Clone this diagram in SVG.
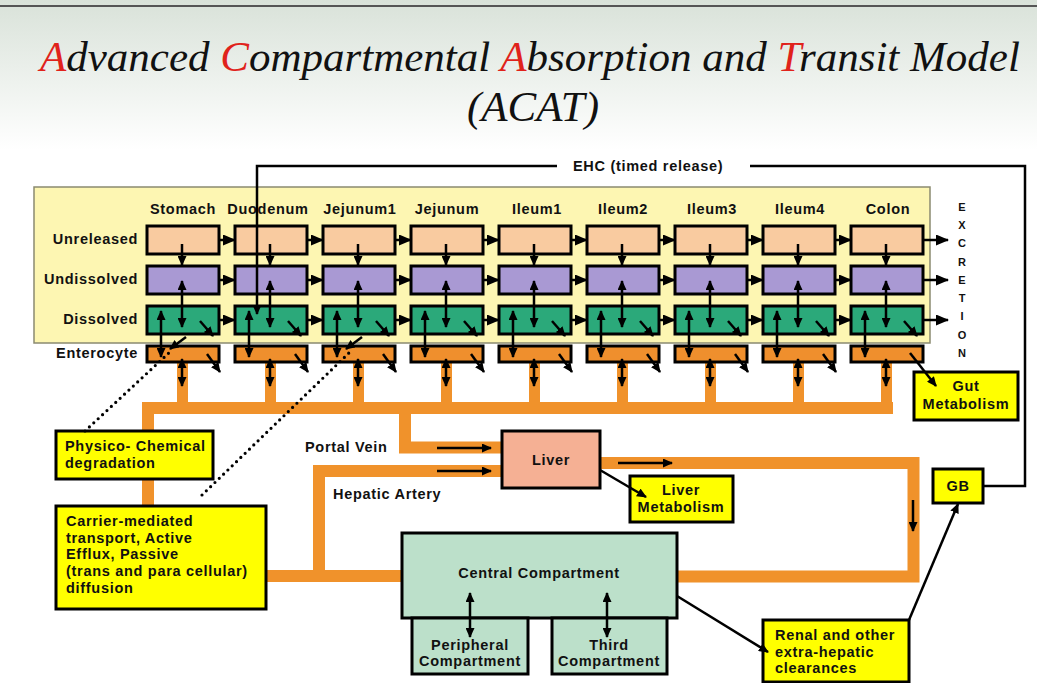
<svg xmlns="http://www.w3.org/2000/svg" width="1037" height="683" viewBox="0 0 1037 683">
<defs>
<linearGradient id="bg" x1="0" y1="0" x2="0" y2="1">
<stop offset="0" stop-color="#d9e2d9"/>
<stop offset="1" stop-color="#ffffff"/>
</linearGradient>
<marker id="ah" markerWidth="10" markerHeight="9" refX="9" refY="4.5" orient="auto-start-reverse" markerUnits="userSpaceOnUse">
<path d="M0,0 L10,4.5 L0,9 z" fill="#000"/>
</marker>
<marker id="big" markerWidth="13" markerHeight="11" refX="12" refY="5.5" orient="auto-start-reverse" markerUnits="userSpaceOnUse">
<path d="M0,0 L13,5.5 L0,11 z" fill="#000"/>
</marker>
<style>
.lbl{font-family:"Liberation Sans",Arial,sans-serif;font-weight:bold;font-size:14.5px;letter-spacing:0.7px;fill:#111}
.sm{font-size:11px;letter-spacing:0}
.mid{text-anchor:middle}
.end{text-anchor:end}
.box{stroke:#000;stroke-width:3}
.ur{fill:#f9cba0}.ud{fill:#a999d3}.ds{fill:#2ba97a}.en{fill:#ef8f2d}
.yb{fill:#ffff00;stroke:#000;stroke-width:3}
.pipe{fill:none;stroke:#f0922b;stroke-width:12}
.stem{fill:#f0922b}
.ar{stroke:#000;stroke-width:2.5;fill:none}
.a1{marker-end:url(#ah)}
.a2{marker-start:url(#ah);marker-end:url(#ah)}
.ab{stroke:#000;stroke-width:2.5;marker-end:url(#big)}
.dot{stroke:#000;stroke-width:3.2;stroke-linecap:round;stroke-dasharray:0 6;fill:none}
.title{font-family:"Liberation Serif","Times New Roman",serif;font-style:italic;font-size:43px;fill:#111}
.red{fill:#e0221b}
</style>
</defs>
<rect x="0" y="0" width="1037" height="683" fill="#fff"/>
<rect x="0" y="0" width="1037" height="150" fill="url(#bg)"/>
<line x1="0" y1="6" x2="1037" y2="6" stroke="#555" stroke-width="2"/>

<g id="title">
<text class="title" x="40" y="71"><tspan class="red">A</tspan>dvanced <tspan class="red">C</tspan>ompartmental <tspan class="red">A</tspan>bsorption and <tspan class="red">T</tspan>ransit Model</text>
<text class="title mid" x="533" y="121">(ACAT)</text>
</g>

<g id="gut-panel">
<rect x="34" y="187" width="896" height="156" fill="#fdf6b2" stroke="#8a8a70" stroke-width="1.5"/>
</g>

<g id="pipes">
<path class="pipe" d="M893,408 H148 V576 H402"/>
<path class="pipe" d="M405,408 V447.5 H502"/>
<path class="pipe" d="M319,576 V471 H502"/>
<path class="pipe" d="M600,463 H913.5 V576.5 H677"/>
<rect class="stem" x="177" y="362" width="11" height="46"/>
<rect class="stem" x="265" y="362" width="11" height="46"/>
<rect class="stem" x="353" y="362" width="11" height="46"/>
<rect class="stem" x="441" y="362" width="11" height="46"/>
<rect class="stem" x="529" y="362" width="11" height="46"/>
<rect class="stem" x="617" y="362" width="11" height="46"/>
<rect class="stem" x="705" y="362" width="11" height="46"/>
<rect class="stem" x="793" y="362" width="11" height="46"/>
<rect class="stem" x="881" y="362" width="11" height="46"/>
</g>

<g id="row-labels">
<text class="lbl end" x="138" y="244">Unreleased</text>
<text class="lbl end" x="138" y="284">Undissolved</text>
<text class="lbl end" x="138" y="324">Dissolved</text>
<text class="lbl end" x="138" y="358">Enterocyte</text>
</g>

<g id="col-stomach">
<text class="lbl mid" x="183" y="214">Stomach</text>
<rect class="box ur" x="147" y="226" width="72" height="28"/><rect class="box ud" x="147" y="266" width="72" height="28"/><rect class="box ds" x="147" y="306" width="72" height="28"/><rect class="box en" x="147" y="346" width="72" height="16"/>
</g>
<g id="col-duodenum">
<text class="lbl mid" x="268" y="214">Duodenum</text>
<rect class="box ur" x="235" y="226" width="72" height="28"/><rect class="box ud" x="235" y="266" width="72" height="28"/><rect class="box ds" x="235" y="306" width="72" height="28"/><rect class="box en" x="235" y="346" width="72" height="16"/>
</g>
<g id="col-jejunum1">
<text class="lbl mid" x="360" y="214">Jejunum1</text>
<rect class="box ur" x="323" y="226" width="72" height="28"/><rect class="box ud" x="323" y="266" width="72" height="28"/><rect class="box ds" x="323" y="306" width="72" height="28"/><rect class="box en" x="323" y="346" width="72" height="16"/>
</g>
<g id="col-jejunum">
<text class="lbl mid" x="447" y="214">Jejunum</text>
<rect class="box ur" x="411" y="226" width="72" height="28"/><rect class="box ud" x="411" y="266" width="72" height="28"/><rect class="box ds" x="411" y="306" width="72" height="28"/><rect class="box en" x="411" y="346" width="72" height="16"/>
</g>
<g id="col-ileum1">
<text class="lbl mid" x="537" y="214">Ileum1</text>
<rect class="box ur" x="499" y="226" width="72" height="28"/><rect class="box ud" x="499" y="266" width="72" height="28"/><rect class="box ds" x="499" y="306" width="72" height="28"/><rect class="box en" x="499" y="346" width="72" height="16"/>
</g>
<g id="col-ileum2">
<text class="lbl mid" x="623" y="214">Ileum2</text>
<rect class="box ur" x="587" y="226" width="72" height="28"/><rect class="box ud" x="587" y="266" width="72" height="28"/><rect class="box ds" x="587" y="306" width="72" height="28"/><rect class="box en" x="587" y="346" width="72" height="16"/>
</g>
<g id="col-ileum3">
<text class="lbl mid" x="712" y="214">Ileum3</text>
<rect class="box ur" x="675" y="226" width="72" height="28"/><rect class="box ud" x="675" y="266" width="72" height="28"/><rect class="box ds" x="675" y="306" width="72" height="28"/><rect class="box en" x="675" y="346" width="72" height="16"/>
</g>
<g id="col-ileum4">
<text class="lbl mid" x="800" y="214">Ileum4</text>
<rect class="box ur" x="763" y="226" width="72" height="28"/><rect class="box ud" x="763" y="266" width="72" height="28"/><rect class="box ds" x="763" y="306" width="72" height="28"/><rect class="box en" x="763" y="346" width="72" height="16"/>
</g>
<g id="col-colon">
<text class="lbl mid" x="888" y="214">Colon</text>
<rect class="box ur" x="851" y="226" width="72" height="28"/><rect class="box ud" x="851" y="266" width="72" height="28"/><rect class="box ds" x="851" y="306" width="72" height="28"/><rect class="box en" x="851" y="346" width="72" height="16"/>
</g>

<g id="excretion">
<text class="lbl sm mid" x="962" y="211">E</text>
<text class="lbl sm mid" x="962" y="229">X</text>
<text class="lbl sm mid" x="962" y="247">C</text>
<text class="lbl sm mid" x="962" y="266">R</text>
<text class="lbl sm mid" x="962" y="284">E</text>
<text class="lbl sm mid" x="962" y="302">T</text>
<text class="lbl sm mid" x="962" y="320">I</text>
<text class="lbl sm mid" x="962" y="339">O</text>
<text class="lbl sm mid" x="962" y="357">N</text>
</g>

<g id="liver">
<rect class="box" x="502" y="431" width="98" height="57" fill="#f5b094"/>
<text class="lbl mid" x="551" y="465">Liver</text>
</g>
<g id="liver-metabolism">
<rect class="yb" x="630" y="476" width="103" height="46"/>
<text class="lbl mid" x="681" y="495">Liver</text>
<text class="lbl mid" x="681" y="512">Metabolism</text>
</g>
<g id="gut-metabolism">
<rect class="yb" x="914" y="372" width="104" height="48"/>
<text class="lbl mid" x="966" y="391">Gut</text>
<text class="lbl mid" x="966" y="409">Metabolism</text>
</g>
<g id="physico">
<rect class="yb" x="56" y="431" width="157" height="48"/>
<text class="lbl" x="65" y="451">Physico- Chemical</text>
<text class="lbl" x="65" y="468">degradation</text>
</g>
<g id="carrier">
<rect class="yb" x="56" y="506" width="210" height="103"/>
<text class="lbl" x="66" y="526">Carrier-mediated</text>
<text class="lbl" x="66" y="543">transport, Active</text>
<text class="lbl" x="66" y="559">Efflux, Passive</text>
<text class="lbl" x="66" y="576">(trans and para cellular)</text>
<text class="lbl" x="66" y="593">diffusion</text>
</g>
<g id="central">
<rect class="box" x="402" y="533" width="275" height="85" fill="#bce0ca"/>
<text class="lbl mid" x="539" y="578">Central Compartment</text>
</g>
<g id="peripheral">
<rect class="box" x="412" y="618" width="116" height="56" fill="#bce0ca"/>
<text class="lbl mid" x="470" y="650">Peripheral</text>
<text class="lbl mid" x="470" y="666">Compartment</text>
</g>
<g id="third">
<rect class="box" x="552" y="618" width="115" height="56" fill="#bce0ca"/>
<text class="lbl mid" x="609" y="650">Third</text>
<text class="lbl mid" x="609" y="666">Compartment</text>
</g>
<g id="renal">
<rect class="yb" x="763" y="620" width="146" height="62"/>
<text class="lbl" x="775" y="640">Renal and other</text>
<text class="lbl" x="775" y="657">extra-hepatic</text>
<text class="lbl" x="775" y="673">clearances</text>
</g>
<g id="gb">
<rect class="yb" x="933" y="469" width="50" height="34"/>
<text class="lbl mid" x="958" y="491">GB</text>
</g>

<g id="labels">
<text class="lbl" x="573" y="171">EHC (timed release)</text>
<text class="lbl" x="305" y="452">Portal Vein</text>
<text class="lbl" x="333" y="499">Hepatic Artery</text>
</g>

<g id="connectors">
<g>
<line class="ab" x1="219" y1="240" x2="235" y2="240"/><line class="ab" x1="219" y1="280" x2="235" y2="280"/><line class="ab" x1="219" y1="320" x2="235" y2="320"/>
<line class="ab" x1="307" y1="240" x2="323" y2="240"/><line class="ab" x1="307" y1="280" x2="323" y2="280"/><line class="ab" x1="307" y1="320" x2="323" y2="320"/>
<line class="ab" x1="395" y1="240" x2="411" y2="240"/><line class="ab" x1="395" y1="280" x2="411" y2="280"/><line class="ab" x1="395" y1="320" x2="411" y2="320"/>
<line class="ab" x1="483" y1="240" x2="499" y2="240"/><line class="ab" x1="483" y1="280" x2="499" y2="280"/><line class="ab" x1="483" y1="320" x2="499" y2="320"/>
<line class="ab" x1="571" y1="240" x2="587" y2="240"/><line class="ab" x1="571" y1="280" x2="587" y2="280"/><line class="ab" x1="571" y1="320" x2="587" y2="320"/>
<line class="ab" x1="659" y1="240" x2="675" y2="240"/><line class="ab" x1="659" y1="280" x2="675" y2="280"/><line class="ab" x1="659" y1="320" x2="675" y2="320"/>
<line class="ab" x1="747" y1="240" x2="763" y2="240"/><line class="ab" x1="747" y1="280" x2="763" y2="280"/><line class="ab" x1="747" y1="320" x2="763" y2="320"/>
<line class="ab" x1="835" y1="240" x2="851" y2="240"/><line class="ab" x1="835" y1="280" x2="851" y2="280"/><line class="ab" x1="835" y1="320" x2="851" y2="320"/>
<line class="ab" x1="923" y1="240" x2="948" y2="240"/><line class="ab" x1="923" y1="280" x2="948" y2="280"/><line class="ab" x1="923" y1="320" x2="948" y2="320"/>
</g>
<g>
<path class="ar a1" d="M182,244 V265"/><path class="ar a2" d="M182,281 V327"/><path class="ar a2" d="M161,311 V357"/><path class="ar a1" d="M200,321 L213,336"/><path class="ar a1" d="M207,354 L220,372"/><path class="ar a2" d="M182,359 V386"/>
<path class="ar a1" d="M270,244 V265"/><path class="ar a2" d="M270,281 V327"/><path class="ar a2" d="M249,311 V357"/><path class="ar a1" d="M288,321 L301,336"/><path class="ar a1" d="M295,354 L308,372"/><path class="ar a2" d="M270,359 V386"/>
<path class="ar a1" d="M358,244 V265"/><path class="ar a2" d="M358,281 V327"/><path class="ar a2" d="M337,311 V357"/><path class="ar a1" d="M376,321 L389,336"/><path class="ar a1" d="M383,354 L396,372"/><path class="ar a2" d="M358,359 V386"/>
<path class="ar a1" d="M446,244 V265"/><path class="ar a2" d="M446,281 V327"/><path class="ar a2" d="M425,311 V357"/><path class="ar a1" d="M464,321 L477,336"/><path class="ar a1" d="M471,354 L484,372"/><path class="ar a2" d="M446,359 V386"/>
<path class="ar a1" d="M534,244 V265"/><path class="ar a2" d="M534,281 V327"/><path class="ar a2" d="M513,311 V357"/><path class="ar a1" d="M552,321 L565,336"/><path class="ar a1" d="M559,354 L572,372"/><path class="ar a2" d="M534,359 V386"/>
<path class="ar a1" d="M622,244 V265"/><path class="ar a2" d="M622,281 V327"/><path class="ar a2" d="M601,311 V357"/><path class="ar a1" d="M640,321 L653,336"/><path class="ar a1" d="M647,354 L660,372"/><path class="ar a2" d="M622,359 V386"/>
<path class="ar a1" d="M710,244 V265"/><path class="ar a2" d="M710,281 V327"/><path class="ar a2" d="M689,311 V357"/><path class="ar a1" d="M728,321 L741,336"/><path class="ar a1" d="M735,354 L748,372"/><path class="ar a2" d="M710,359 V386"/>
<path class="ar a1" d="M798,244 V265"/><path class="ar a2" d="M798,281 V327"/><path class="ar a2" d="M777,311 V357"/><path class="ar a1" d="M816,321 L829,336"/><path class="ar a1" d="M823,354 L836,372"/><path class="ar a2" d="M798,359 V386"/>
<path class="ar a1" d="M886,244 V265"/><path class="ar a2" d="M886,281 V327"/><path class="ar a2" d="M865,311 V357"/><path class="ar a1" d="M904,321 L917,336"/><path class="ar a1" d="M910,353 L936,386"/><path class="ar a2" d="M886,359 V386"/>
</g>
<path class="ar a1" d="M186,337 L170,349"/>
<path class="ar a1" d="M362,337 L346,349"/>
<path class="dot" d="M85,431 L172,350"/>
<path class="dot" d="M202,495 L352,350"/>
<path class="ar a1" d="M557,166 H257 V314"/>
<path class="ar" d="M750,166 H1025 V486 H983"/>
<path class="ar a1" d="M437,448 H491"/>
<path class="ar a1" d="M437,471 H491"/>
<path class="ar a1" d="M618,463 H672"/>
<path class="ar a1" d="M913,500 V531"/>
<path class="ar a1" d="M600,470 L646,497"/>
<path class="ar a1" d="M677,596 L768,652"/>
<path class="ar a1" d="M909,620 L958,504"/>
<path class="ar a2" d="M470,593 V637"/>
<path class="ar a2" d="M607,593 V637"/>
</g>
</svg>
